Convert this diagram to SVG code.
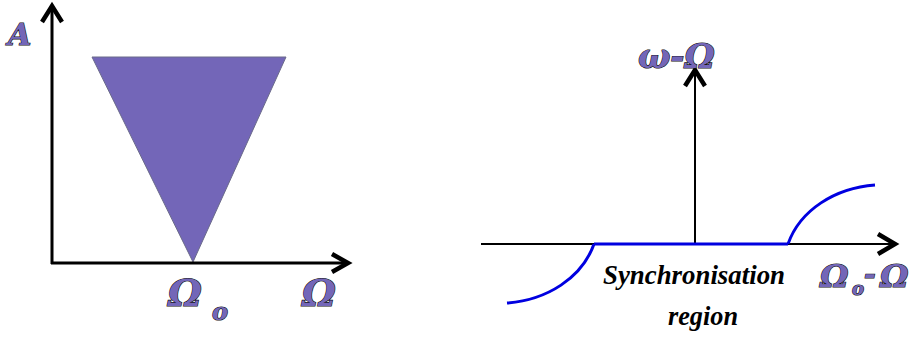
<svg xmlns="http://www.w3.org/2000/svg" width="920" height="338" viewBox="0 0 920 338">
<style>
.ax{stroke:#000;fill:none;stroke-linecap:butt}
.head{stroke:#000;fill:none;stroke-width:4.5;stroke-linejoin:miter}
.lbl{font-family:"DejaVu Serif",serif;font-weight:bold;font-style:italic;fill:#7366b8;stroke:#111;stroke-width:1.2;paint-order:stroke}
.cap{font-family:"Liberation Serif","DejaVu Serif",serif;font-style:italic;font-weight:bold;fill:#000;font-size:28px}
.blue{stroke:#0000e0;stroke-width:3;fill:none}
</style>
<g id="left-plot">
  <polygon points="92,57 286,57 193,262" fill="#7366b8" stroke="#6a6a8a" stroke-width="1"/>
</g>
<g id="connectors">
  <line class="ax" x1="52" y1="264" x2="52" y2="7" stroke-width="3"/>
  <polyline class="head" points="42,22 52,6 62,22"/>
  <line class="ax" x1="51" y1="263" x2="348" y2="263" stroke-width="3"/>
  <polyline class="head" points="332,254 348,263 332,272"/>
  <line class="ax" x1="481" y1="244" x2="895" y2="244" stroke-width="2"/>
  <polyline class="head" points="878,234 895,244 878,254"/>
  <line class="ax" x1="695" y1="244" x2="695" y2="70" stroke-width="2"/>
  <polyline class="head" points="685,86 695,70 705,86"/>
</g>
<g id="sync-curve">
  <line class="blue" x1="594" y1="244" x2="788" y2="244"/>
  <path class="blue" d="M594,244 C582,278 547,300 507,303"/>
  <path class="blue" d="M788,244 C800,210 835,188 875,185"/>
</g>
<g id="labels">
  <text class="lbl" x="8" y="45" font-size="30">A</text>
  <text class="lbl" x="168" y="306" font-size="38">Ω</text>
  <text class="lbl" x="212" y="320" font-size="24">o</text>
  <text class="lbl" x="302" y="306" font-size="38">Ω</text>
  <text class="lbl" x="638" y="68" font-size="34">ω-Ω</text>
  <text class="lbl" x="820" y="287" font-size="32">Ω</text>
  <text class="lbl" x="852" y="295" font-size="18">o</text>
  <text class="lbl" x="864" y="284" font-size="28">-</text>
  <text class="lbl" x="880" y="287" font-size="32">Ω</text>
  <text class="cap" x="694" y="284" text-anchor="middle" textLength="182" lengthAdjust="spacingAndGlyphs">Synchronisation</text>
  <text class="cap" x="703" y="325" text-anchor="middle" textLength="70" lengthAdjust="spacingAndGlyphs">region</text>
</g>
</svg>
